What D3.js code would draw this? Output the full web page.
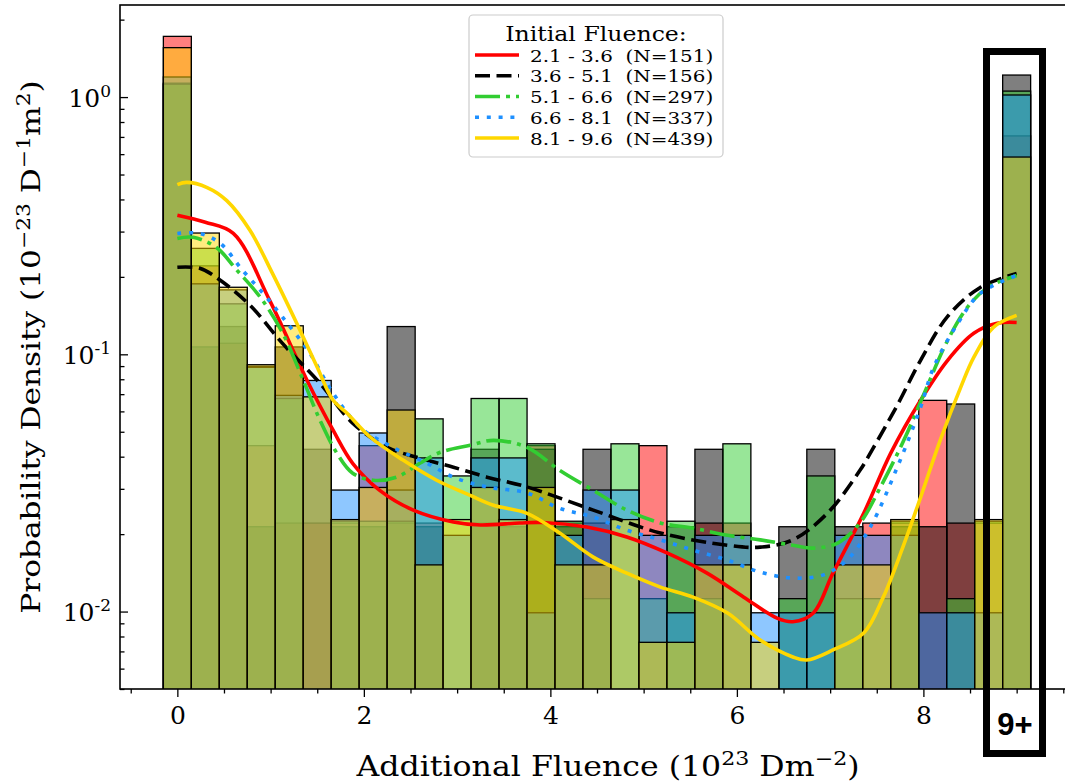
<!DOCTYPE html>
<html>
<head>
<meta charset="utf-8">
<script src="https://cdn.jsdelivr.net/npm/d3@7"></script>
<style>
  html, body { margin: 0; padding: 0; background: #ffffff; }
  svg { display: block; }
</style>
</head>
<body>
<svg id="chart" width="1065" height="782"></svg>
<script>
// ---- histogram bins (centres, 10^23 D m^-2); the last bin collects 9+ ----
const binCenters = [0.0, 0.3, 0.6, 0.9, 1.2, 1.5, 1.8, 2.1, 2.4, 2.7, 3.0, 3.3, 3.6, 3.9, 4.2,
                    4.5, 4.8, 5.1, 5.4, 5.7, 6.0, 6.3, 6.6, 6.9, 7.2, 7.5, 7.8, 8.1, 8.4, 8.7, 9.0];
const binWidth = 0.3;

// ---- initial-fluence groups ----
const groupLabels = ["2.1 - 3.6", "3.6 - 5.1", "5.1 - 6.6", "6.6 - 8.1", "8.1 - 9.6"];
const groupN = [151, 156, 297, 337, 439];

// ---- counts per bin for each group ----
const counts21 = [78, 10, 5, 2, 1, 1, 1, 2, 1, 1, 0, 1, 1, 2, 1, 1, 0, 2, 0, 1, 1, 0, 0, 0, 0, 1, 1, 3, 1, 1, 32];
const counts36 = [53, 5, 6, 1, 5, 2, 1, 1, 6, 1, 0, 2, 1, 2, 1, 2, 0, 0, 1, 2, 0, 0, 1, 2, 1, 0, 1, 1, 3, 0, 57];
const counts51 = [100, 23, 14, 8, 6, 0, 2, 2, 2, 5, 3, 6, 6, 4, 2, 1, 4, 1, 2, 1, 4, 0, 1, 3, 1, 1, 2, 0, 1, 2, 94];
const counts66 = [121, 19, 18, 9, 7, 8, 3, 5, 3, 4, 2, 4, 4, 1, 2, 3, 3, 2, 1, 2, 2, 1, 1, 1, 2, 2, 2, 1, 1, 1, 103];
const counts81 = [205, 39, 24, 12, 17, 9, 3, 4, 8, 2, 3, 4, 3, 4, 2, 2, 3, 1, 1, 2, 2, 1, 0, 0, 2, 2, 3, 0, 0, 3, 77];

// ---- kernel density estimates, [fluence, density] ----
const kde21 = [[0, 0.347], [0.30, 0.326], [0.60, 0.295], [0.99, 0.162], [1.39, 0.0793], [1.67, 0.0507],
  [1.88, 0.0377], [2.17, 0.0296], [2.53, 0.0248], [2.96, 0.0223], [3.25, 0.0217], [3.67, 0.0221],
  [3.92, 0.0222], [4.39, 0.0213], [4.82, 0.0195], [5.25, 0.0169], [5.68, 0.0141], [6.07, 0.0114],
  [6.43, 0.00943], [6.60, 0.00913], [6.82, 0.00987], [7.03, 0.0141], [7.36, 0.0241], [7.65, 0.0413],
  [7.97, 0.0663], [8.26, 0.0948], [8.54, 0.1207], [8.79, 0.132], [9.0, 0.133]];
const kde36 = [[0, 0.218], [0.24, 0.216], [0.46, 0.194], [0.78, 0.155], [1.13, 0.110], [1.53, 0.0771],
  [1.88, 0.0540], [2.25, 0.0435], [2.60, 0.0395], [2.96, 0.0364], [3.32, 0.0333], [3.75, 0.0305],
  [4.46, 0.0248], [5.18, 0.0202], [5.90, 0.0181], [6.25, 0.0178], [6.60, 0.0190], [6.97, 0.0241],
  [7.32, 0.0354], [7.46, 0.0431], [7.72, 0.0634], [7.97, 0.0948], [8.26, 0.1404], [8.61, 0.182],
  [9.0, 0.206]];
const kde51 = [[0, 0.282], [0.17, 0.285], [0.42, 0.260], [0.64, 0.212], [0.89, 0.1665], [1.13, 0.1207],
  [1.35, 0.0793], [1.53, 0.0554], [1.71, 0.0413], [1.88, 0.0345], [2.10, 0.0324], [2.35, 0.0333],
  [2.60, 0.0377], [2.82, 0.0416], [3.14, 0.0443], [3.39, 0.0463], [3.75, 0.0435], [4.10, 0.0354],
  [4.46, 0.0296], [4.82, 0.0248], [5.18, 0.0221], [5.53, 0.0211], [5.90, 0.0198], [6.25, 0.0190],
  [6.60, 0.0181], [6.82, 0.01765], [7.08, 0.01845], [7.32, 0.0221], [7.54, 0.0305], [7.79, 0.0463],
  [8.00, 0.0693], [8.26, 0.1133], [8.47, 0.152], [8.69, 0.182], [9.0, 0.2026]];
const kde66 = [[0, 0.295], [0.24, 0.295], [0.46, 0.270], [0.70, 0.212], [0.92, 0.1725], [1.13, 0.1392],
  [1.42, 0.1009], [1.67, 0.0706], [1.96, 0.0521], [2.31, 0.0435], [2.68, 0.0377], [2.96, 0.0333],
  [3.32, 0.0305], [3.75, 0.0289], [4.10, 0.0252], [4.46, 0.0233], [4.82, 0.0207], [5.18, 0.0190],
  [5.53, 0.01733], [5.90, 0.01585], [6.25, 0.01423], [6.60, 0.0135], [6.92, 0.01386], [7.18, 0.01585],
  [7.43, 0.0213], [7.72, 0.0364], [7.97, 0.0622], [8.11, 0.089], [8.37, 0.132], [8.61, 0.1725],
  [9.0, 0.2026]];
const kde81 = [[0, 0.457], [0.10, 0.466], [0.32, 0.445], [0.53, 0.396], [0.78, 0.303], [1.02, 0.2063],
  [1.28, 0.132], [1.50, 0.089], [1.67, 0.0663], [1.82, 0.059], [2.07, 0.0476], [2.42, 0.0388],
  [2.78, 0.0324], [3.14, 0.0283], [3.39, 0.0259], [3.75, 0.0241], [4.10, 0.0202], [4.46, 0.01628],
  [4.82, 0.0141], [5.18, 0.01245], [5.53, 0.01138], [5.90, 0.00987], [6.25, 0.00775], [6.60, 0.00666],
  [6.75, 0.00648], [7.03, 0.00709], [7.36, 0.00825], [7.57, 0.01138], [7.78, 0.0178], [7.97, 0.0278],
  [8.18, 0.0463], [8.40, 0.0744], [8.54, 0.0973], [8.75, 0.1273], [9.0, 0.1417]];

// ---- axis ticks ----
const xMajorTicks = [0, 2, 4, 6, 8];
const xMinorTicks = [-0.5, 0.5, 1, 1.5, 2.5, 3, 3.5, 4.5, 5, 5.5, 6.5, 7, 7.5, 8.5, 9, 9.5];
const yMajorTicks = [0.01, 0.1, 1];
const yTickExponents = ["-2", "-1", "0"];
const yMinorTicks = [0.005, 0.006, 0.007, 0.008, 0.009, 0.02, 0.03, 0.04, 0.05, 0.06, 0.07, 0.08, 0.09,
                     0.2, 0.3, 0.4, 0.5, 0.6, 0.7, 0.8, 0.9, 2];

// ---- styling per group ----
const series = [
  { counts: counts21, kde: kde21, color: "#ff0000", dash: null },
  { counts: counts36, kde: kde36, color: "#000000", dash: "15,6.5" },
  { counts: counts51, kde: kde51, color: "#32cd32", dash: "25,6,4,6" },
  { counts: counts66, kde: kde66, color: "#1e90ff", dash: "4,7.8" },
  { counts: counts81, kde: kde81, color: "#ffd700", dash: null }
];

const SERIF = "DejaVu Serif, serif";
const svg = d3.select("#chart");
const plot = { left: 120, top: 5, right: 1074, bottom: 689 };

const x = d3.scaleLinear().domain([-0.615, 9.615]).range([plot.left, plot.right]);
const y = d3.scaleLog().domain([0.005, 2.28]).range([plot.bottom, plot.top]);

svg.append("defs").append("clipPath").attr("id", "plotClip")
  .append("rect")
  .attr("x", plot.left).attr("y", plot.top)
  .attr("width", plot.right - plot.left).attr("height", plot.bottom - plot.top);

const area = svg.append("g").attr("clip-path", "url(#plotClip)");

// histogram bars: each group layered at half opacity with black outlines
series.forEach((s, si) => {
  const n = groupN[si];
  const bins = binCenters.map((c, i) => ({ c, d: s.counts[i] / (n * binWidth) }))
    .filter(b => b.d > 0);
  area.append("g")
    .selectAll("rect")
    .data(bins)
    .join("rect")
    .attr("x", b => x(b.c - binWidth / 2))
    .attr("width", b => x(b.c + binWidth / 2) - x(b.c - binWidth / 2))
    .attr("y", b => y(b.d))
    .attr("height", b => y(0.005) - y(b.d) + 2)
    .attr("fill", s.color)
    .attr("fill-opacity", 0.5)
    .attr("stroke", "#000")
    .attr("stroke-width", 1.3);
});

// density curves
const lineGen = d3.line()
  .x(d => x(d[0]))
  .y(d => y(d[1]))
  .curve(d3.curveCatmullRom.alpha(0.5));

series.forEach(s => {
  area.append("path")
    .datum(s.kde)
    .attr("d", lineGen)
    .attr("fill", "none")
    .attr("stroke", s.color)
    .attr("stroke-width", 3.6)
    .attr("stroke-dasharray", s.dash)
    .attr("stroke-linecap", "butt");
});

// ---- axes ----
const xAxisMajor = svg.append("g")
  .attr("transform", `translate(0,${plot.bottom})`)
  .call(d3.axisBottom(x).tickValues(xMajorTicks).tickSize(8).tickPadding(9).tickFormat(d3.format("d")));
const xAxisMinor = svg.append("g")
  .attr("transform", `translate(0,${plot.bottom})`)
  .call(d3.axisBottom(x).tickValues(xMinorTicks).tickSize(4.5).tickFormat(""));

const yAxisMajor = svg.append("g")
  .attr("transform", `translate(${plot.left},0)`)
  .call(d3.axisLeft(y).tickValues(yMajorTicks).tickSizeInner(-8).tickSizeOuter(0).tickPadding(10).tickFormat(""));
const yAxisMinor = svg.append("g")
  .attr("transform", `translate(${plot.left},0)`)
  .call(d3.axisLeft(y).tickValues(yMinorTicks).tickSizeInner(-4.5).tickSizeOuter(0).tickFormat(""));

[xAxisMajor, xAxisMinor, yAxisMajor, yAxisMinor].forEach(g => {
  g.select(".domain").remove();
  g.selectAll(".tick line").attr("stroke", "#000").attr("stroke-width", 1.3);
});

xAxisMajor.selectAll(".tick text")
  .style("font-family", SERIF)
  .style("font-size", "25px")
  .attr("fill", "#000");

// y tick labels as powers of ten
yAxisMajor.selectAll(".tick").each(function (d, i) {
  const t = d3.select(this).append("text")
    .attr("x", -9).attr("dy", "0.36em")
    .attr("text-anchor", "end")
    .style("font-family", SERIF)
    .style("font-size", "25px")
    .attr("fill", "#000");
  t.append("tspan").text("10");
  t.append("tspan").style("font-size", "17px").attr("dy", -10).text(yTickExponents[i]);
});

// frame
svg.append("rect")
  .attr("x", plot.left).attr("y", plot.top)
  .attr("width", plot.right - plot.left).attr("height", plot.bottom - plot.top)
  .attr("fill", "none").attr("stroke", "#000").attr("stroke-width", 1.6);

// text with superscripts
function richText(sel, parts, size) {
  const supSize = size * 0.7, raise = size * 0.4;
  let up = false;
  parts.forEach(([txt, sup]) => {
    const ts = sel.append("tspan").text(txt);
    if (sup) ts.style("font-size", supSize + "px");
    if (sup && !up) { ts.attr("dy", -raise); up = true; }
    else if (!sup && up) { ts.attr("dy", raise); up = false; }
  });
}

const xLabel = svg.append("text")
  .attr("transform", "translate(608,776) scale(1.17,1)")
  .attr("text-anchor", "middle")
  .style("font-family", SERIF).style("font-size", "27px")
  .style("white-space", "pre");
richText(xLabel, [["Additional Fluence (10", false], ["23", true], [" Dm", false], ["\u22122", true], [")", false]], 27);

const yLabel = svg.append("text")
  .attr("transform", `translate(40,${(plot.top + plot.bottom) / 2}) rotate(-90) scale(1.2,1)`)
  .attr("text-anchor", "middle")
  .style("font-family", SERIF).style("font-size", "26px")
  .style("white-space", "pre");
richText(yLabel, [["Probability Density (10", false], ["\u221223", true], [" D", false], ["\u22121", true],
  ["m", false], ["2", true], [")", false]], 26);

// ---- legend ----
const lg = svg.append("g");
lg.append("rect")
  .attr("x", 469).attr("y", 15).attr("width", 254).attr("height", 142)
  .attr("rx", 4).attr("fill", "#fff").attr("fill-opacity", 0.8)
  .attr("stroke", "#cccccc").attr("stroke-width", 1.2);
lg.append("text")
  .attr("transform", "translate(596,41) scale(1.18,1)")
  .attr("text-anchor", "middle")
  .style("font-family", SERIF).style("font-size", "20px")
  .text("Initial Fluence:");
series.forEach((s, i) => {
  const yy = 55 + i * 20.75;
  lg.append("line")
    .attr("x1", 475).attr("x2", 519).attr("y1", yy).attr("y2", yy)
    .attr("stroke", s.color).attr("stroke-width", 3.6)
    .attr("stroke-dasharray", s.dash);
  lg.append("text")
    .attr("transform", `translate(530,${yy + 6.5}) scale(1.14,1)`)
    .style("font-family", SERIF).style("font-size", "17.5px")
    .style("white-space", "pre")
    .text(`${groupLabels[i]}  (N=${groupN[i]})`);
});

// ---- highlight of the open-ended last bin ----
svg.append("rect")
  .attr("x", 986.5).attr("y", 51.5).attr("width", 56).attr("height", 702)
  .attr("fill", "none").attr("stroke", "#000").attr("stroke-width", 7);
svg.append("text")
  .attr("x", 1015).attr("y", 735).attr("text-anchor", "middle")
  .style("font-family", "Liberation Sans, Arial, sans-serif").style("font-weight", "bold")
  .style("font-size", "31px")
  .text("9+");
</script>
</body>
</html>
